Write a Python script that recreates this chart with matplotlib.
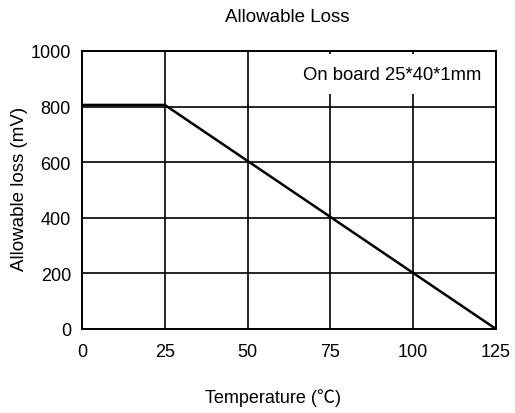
import matplotlib
matplotlib.use("Agg")
import matplotlib.pyplot as plt

# data
temps = [0, 25, 125]
loss = [806, 806, 0]
x_ticks = [0, 25, 50, 75, 100, 125]
y_ticks = [0, 200, 400, 600, 800, 1000]
note = "On board 25*40*1mm"

plt.rcParams['font.family'] = ['Liberation Sans', 'Noto Sans CJK SC', 'DejaVu Sans']

fig = plt.figure(figsize=(5.15, 4.14), dpi=100)
ax = fig.add_axes([82/515, 84/414, 414/515, 278/414])

ax.plot(temps, loss, color="black", linewidth=1.8, solid_capstyle="butt", zorder=3)

ax.set_xlim(0, 125)
ax.set_ylim(0, 1000)
ax.set_xticks(x_ticks)
ax.set_yticks(y_ticks)
ax.tick_params(length=0, labelsize=13)
ax.tick_params(axis='x', pad=10)
ax.tick_params(axis='y', pad=8)
ax.grid(True, color="black", linewidth=1.2)
for s in ax.spines.values():
    s.set_linewidth(1.4)
    s.set_color("black")

# label sits on a white patch that hides the grid behind it
ax.text(120.5, 917, note, ha="right", va="center", fontsize=13.3, zorder=4,
        bbox=dict(boxstyle="square,pad=0.6", facecolor="white", edgecolor="none"))

fig.text(287/515, 1-17/414, "Allowable Loss", ha="center", va="center", fontsize=13.5)
fig.text(273/515, 1-398/414, "Temperature (℃)", ha="center", va="center", fontsize=13)
fig.text(20/515, 1-189/414, "Allowable loss (mV)", ha="center", va="center",
         rotation=90, fontsize=13.5)

fig.savefig("out.png", dpi=100)
